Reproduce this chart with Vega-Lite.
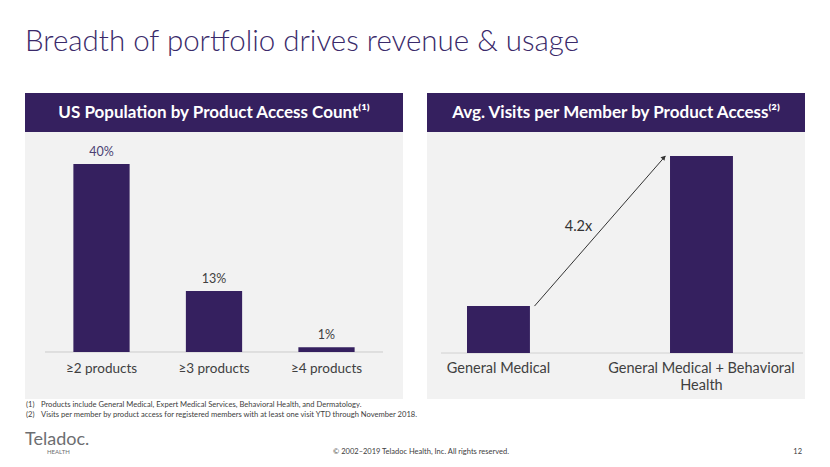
{
  "$schema": "https://vega.github.io/schema/vega-lite/v6.json",
  "background": "white",
  "padding": {"left": 25, "top": 26, "right": 0, "bottom": 0},
  "title": {"text": "Breadth of portfolio drives revenue & usage", "anchor": "start", "font": "Lato", "fontSize": 29.5, "fontWeight": 300, "color": "#3a2a6a", "offset": 36},
  "config": {"view": {"stroke": null}, "font": "Lato"},
  "spacing": 0,
  "vconcat": [
    {
      "spacing": 24,
      "hconcat": [
        {
          "spacing": 0,
          "vconcat": [
            {
              "width": 378, "height": 39,
              "view": {"fill": "#35205f", "stroke": null},
              "data": {"values": [{"h": "US Population by Product Access Count⁽¹⁾"}]},
              "mark": {"type": "text", "color": "white", "font": "Lato", "fontWeight": "bold", "fontSize": 17},
              "encoding": {"text": {"field": "h"}}
            },
            {
              "width": 378, "height": 267,
              "view": {"fill": "#f2f2f2", "stroke": null},
              "data": {"values": [
                {"cat": "≥2 products", "pct": 40, "label": "40%"},
                {"cat": "≥3 products", "pct": 13, "label": "13%"},
                {"cat": "≥4 products", "pct": 1, "label": "1%"}
              ]},
              "layer": [
                {
                  "mark": {"type": "rule", "color": "#dcdcdc", "strokeWidth": 1},
                  "encoding": {"y": {"datum": 0, "type": "quantitative", "scale": {"domain": [-10, 46.8], "nice": false, "zero": false}, "axis": null}, "x": {"value": 20}, "x2": {"value": 358}}
                },
                {
                  "mark": {"type": "bar", "color": "#35205f"},
                  "encoding": {
                    "x": {"field": "cat", "type": "nominal", "sort": null, "axis": null, "scale": {"paddingInner": 0.5, "paddingOuter": 0.43}},
                    "y": {"field": "pct", "type": "quantitative"},
                    "y2": {"datum": 0}
                  }
                },
                {
                  "mark": {"type": "text", "baseline": "bottom", "dy": -5, "fontSize": 12.5},
                  "encoding": {
                    "x": {"field": "cat", "type": "nominal", "sort": null},
                    "y": {"field": "pct", "type": "quantitative"},
                    "text": {"field": "label"},
                    "color": {"condition": {"test": "datum.pct == 40", "value": "#4b3f72"}, "value": "#404040"}
                  }
                },
                {
                  "mark": {"type": "text", "baseline": "top", "fontSize": 13.5, "color": "#404040"},
                  "encoding": {
                    "x": {"field": "cat", "type": "nominal", "sort": null},
                    "y": {"datum": -2.2, "type": "quantitative"},
                    "text": {"field": "cat"}
                  }
                }
              ]
            }
          ]
        },
        {
          "spacing": 0,
          "vconcat": [
            {
              "width": 378, "height": 39,
              "view": {"fill": "#35205f", "stroke": null},
              "data": {"values": [{"h": "Avg. Visits per Member by Product Access⁽²⁾"}]},
              "mark": {"type": "text", "color": "white", "font": "Lato", "fontWeight": "bold", "fontSize": 17},
              "encoding": {"text": {"field": "h"}}
            },
            {
              "width": 378, "height": 267,
              "view": {"fill": "#f2f2f2", "stroke": null},
              "data": {"values": [
                {"cat": "General Medical", "v": 1.0, "lbl": ["General Medical"]},
                {"cat": "General Medical + Behavioral Health", "v": 4.2, "lbl": ["General Medical + Behavioral", "Health"]}
              ]},
              "layer": [
                {
                  "mark": {"type": "rule", "color": "#dcdcdc", "strokeWidth": 1},
                  "encoding": {"y": {"datum": 0, "type": "quantitative", "scale": {"domain": [-0.98, 4.71], "nice": false, "zero": false}, "axis": null}, "x": {"value": 14}, "x2": {"value": 376}}
                },
                {
                  "mark": {"type": "bar", "color": "#35205f"},
                  "encoding": {
                    "x": {"field": "cat", "type": "nominal", "sort": null, "axis": null, "scale": {"paddingInner": 0.69, "paddingOuter": 0.276, "align": 0.357}},
                    "y": {"field": "v", "type": "quantitative"},
                    "y2": {"datum": 0}
                  }
                },
                {
                  "mark": {"type": "text", "baseline": "top", "fontSize": 14.5, "color": "#404040", "lineHeight": 17},
                  "encoding": {
                    "x": {"field": "cat", "type": "nominal", "sort": null},
                    "y": {"datum": -0.2, "type": "quantitative"},
                    "text": {"field": "lbl"}
                  }
                },
                {
                  "data": {"values": [{"from": "General Medical", "to": "General Medical + Behavioral Health", "y0": 1.0, "y1": 4.2}]},
                  "mark": {"type": "rule", "color": "#333333", "strokeWidth": 1, "xOffset": 36, "x2Offset": -36},
                  "encoding": {
                    "x": {"field": "from", "type": "nominal", "sort": null},
                    "x2": {"field": "to"},
                    "y": {"field": "y0", "type": "quantitative"},
                    "y2": {"field": "y1"}
                  }
                },
                {
                  "data": {"values": [{"to": "General Medical + Behavioral Health", "y1": 4.2}]},
                  "mark": {"type": "point", "shape": "triangle", "filled": true, "color": "#333333", "size": 28, "angle": 41, "opacity": 1, "xOffset": -38, "yOffset": 2},
                  "encoding": {
                    "x": {"field": "to", "type": "nominal", "sort": null},
                    "y": {"field": "y1", "type": "quantitative"}
                  }
                },
                {
                  "data": {"values": [{"from": "General Medical", "mult": "4.2x", "ypos": 2.69}]},
                  "mark": {"type": "text", "fontSize": 14.5, "color": "#333333", "dx": 80},
                  "encoding": {
                    "x": {"field": "from", "type": "nominal", "sort": null},
                    "y": {"field": "ypos", "type": "quantitative"},
                    "text": {"field": "mult"}
                  }
                }
              ]
            }
          ]
        }
      ]
    },
    {
      "width": 780, "height": 68,
      "data": {"values": [
        {"n": "(1)", "t": "Products include General Medical, Expert Medical Services, Behavioral Health, and Dermatology.", "line": 6},
        {"n": "(2)", "t": "Visits per member by product access for registered members with at least one visit YTD through November 2018.", "line": 16}
      ]},
      "layer": [
        {
          "mark": {"type": "text", "align": "left", "fontSize": 7.6, "color": "#404040", "x": 1},
          "encoding": {"y": {"field": "line", "type": "quantitative", "scale": {"domain": [0, 68], "range": [0, 68], "nice": false, "zero": false}, "axis": null}, "text": {"field": "n"}}
        },
        {
          "mark": {"type": "text", "align": "left", "fontSize": 7.6, "color": "#404040", "x": 16},
          "encoding": {"y": {"field": "line", "type": "quantitative"}, "text": {"field": "t"}}
        },
        {
          "data": {"values": [{"t": "Teladoc."}]},
          "mark": {"type": "text", "align": "left", "baseline": "middle", "fontSize": 18, "color": "#6d6e71", "x": 0, "y": 41},
          "encoding": {"text": {"field": "t"}}
        },
        {
          "data": {"values": [{"t": "HEALTH"}]},
          "mark": {"type": "text", "align": "left", "baseline": "middle", "fontSize": 6, "color": "#6d6e71", "x": 22, "y": 53},
          "encoding": {"text": {"field": "t"}}
        },
        {
          "data": {"values": [{"t": "© 2002–2019 Teladoc Health, Inc. All rights reserved."}]},
          "mark": {"type": "text", "align": "center", "baseline": "middle", "fontSize": 7.5, "color": "#404040", "x": 396, "y": 53},
          "encoding": {"text": {"field": "t"}}
        },
        {
          "data": {"values": [{"t": "12"}]},
          "mark": {"type": "text", "align": "right", "baseline": "middle", "fontSize": 7.5, "color": "#404040", "x": 777, "y": 53},
          "encoding": {"text": {"field": "t"}}
        }
      ]
    }
  ]
}
